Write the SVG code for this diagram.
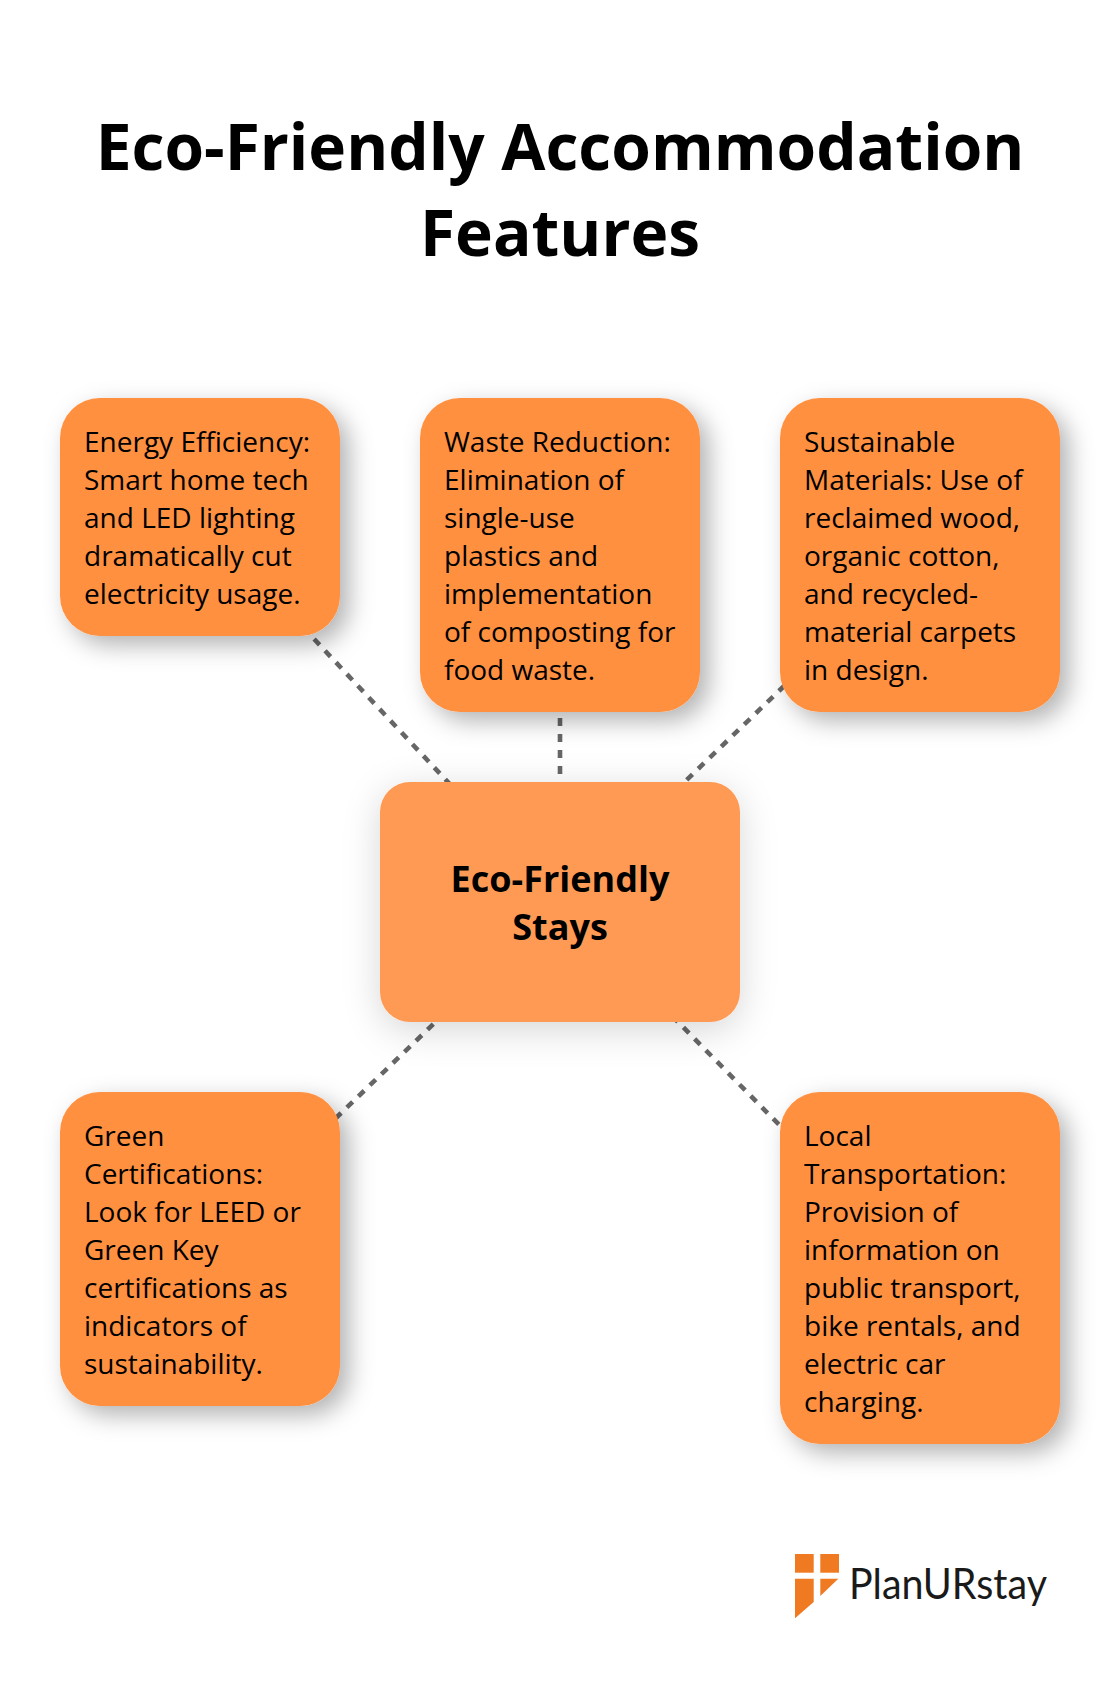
<svg xmlns="http://www.w3.org/2000/svg" width="1120" height="1684" viewBox="0 0 1120 1684">
<style>
text{font-family:"Open Sans","Liberation Sans",sans-serif;fill:#000}
.t{font-size:64px;font-weight:700;text-anchor:middle}
.b{font-size:28px}
.c{font-size:36px;font-weight:700;text-anchor:middle}
.n{fill:#ff9040}
.m{fill:#ff9a55}
.l{stroke:#666;stroke-width:4.6;stroke-dasharray:8 8;fill:none}
.o{fill:#f07a22}
</style>
<defs>
<filter id="s" x="-30%" y="-30%" width="160%" height="160%"><feDropShadow dx="9" dy="9" stdDeviation="12" flood-color="#000" flood-opacity=".3"/></filter>
<filter id="s2" x="-30%" y="-30%" width="160%" height="160%"><feDropShadow dx="0" dy="8" stdDeviation="18" flood-color="#000" flood-opacity=".16"/></filter>
</defs>
<rect width="1120" height="1684" fill="#fff"/>
<g id="title"><text class="t" x="560" y="169.500">Eco-Friendly Accommodation</text><text class="t" x="560" y="256">Features</text></g>
<g id="connectors">
<line class="l" x1="560" y1="902" x2="200" y2="517"/>
<line class="l" x1="560" y1="902" x2="560" y2="555"/>
<line class="l" x1="560" y1="902" x2="920" y2="555"/>
<line class="l" x1="560" y1="902" x2="200" y2="1249"/>
<line class="l" x1="560" y1="902" x2="920" y2="1268"/>
</g>
<g id="energy"><rect class="n" x="60" y="398" width="280" height="238" rx="40" filter="url(#s)"/>
<text class="b"><tspan x="84" y="452">Energy Efficiency:</tspan><tspan x="84" y="490">Smart home tech</tspan><tspan x="84" y="528">and LED lighting</tspan><tspan x="84" y="566">dramatically cut</tspan><tspan x="84" y="604">electricity usage.</tspan></text></g>
<g id="waste"><rect class="n" x="420" y="398" width="280" height="314" rx="40" filter="url(#s)"/>
<text class="b"><tspan x="444" y="452">Waste Reduction:</tspan><tspan x="444" y="490">Elimination of</tspan><tspan x="444" y="528">single-use</tspan><tspan x="444" y="566">plastics and</tspan><tspan x="444" y="604">implementation</tspan><tspan x="444" y="642">of composting for</tspan><tspan x="444" y="680">food waste.</tspan></text></g>
<g id="materials"><rect class="n" x="780" y="398" width="280" height="314" rx="40" filter="url(#s)"/>
<text class="b"><tspan x="804" y="452">Sustainable</tspan><tspan x="804" y="490">Materials: Use of</tspan><tspan x="804" y="528">reclaimed wood,</tspan><tspan x="804" y="566">organic cotton,</tspan><tspan x="804" y="604">and recycled-</tspan><tspan x="804" y="642">material carpets</tspan><tspan x="804" y="680">in design.</tspan></text></g>
<g id="center"><rect class="m" x="380" y="782" width="360" height="240" rx="30" filter="url(#s2)"/>
<text class="c"><tspan x="560" y="892">Eco-Friendly</tspan><tspan x="560" y="940">Stays</tspan></text></g>
<g id="certifications"><rect class="n" x="60" y="1092" width="280" height="314" rx="40" filter="url(#s)"/>
<text class="b"><tspan x="84" y="1146">Green</tspan><tspan x="84" y="1184">Certifications:</tspan><tspan x="84" y="1222">Look for LEED or</tspan><tspan x="84" y="1260">Green Key</tspan><tspan x="84" y="1298">certifications as</tspan><tspan x="84" y="1336">indicators of</tspan><tspan x="84" y="1374">sustainability.</tspan></text></g>
<g id="transport"><rect class="n" x="780" y="1092" width="280" height="352" rx="40" filter="url(#s)"/>
<text class="b"><tspan x="804" y="1146">Local</tspan><tspan x="804" y="1184">Transportation:</tspan><tspan x="804" y="1222">Provision of</tspan><tspan x="804" y="1260">information on</tspan><tspan x="804" y="1298">public transport,</tspan><tspan x="804" y="1336">bike rentals, and</tspan><tspan x="804" y="1374">electric car</tspan><tspan x="804" y="1412">charging.</tspan></text></g>
<g id="logo">
<rect class="o" x="795" y="1554" width="18.7" height="18.7"/><rect class="o" x="820.3" y="1554" width="18.7" height="18.7"/>
<polygon class="o" points="795,1578.7 813.7,1578.7 813.7,1602 795,1618.3"/><polygon class="o" points="820.3,1578.7 838.3,1578.7 820.3,1596"/>
<text x="849" y="1599" font-size="42" textLength="198" lengthAdjust="spacingAndGlyphs" style="font-family:Lato,'Liberation Sans',sans-serif;fill:#1a1a1a">PlanURstay</text>
</g>
</svg>
